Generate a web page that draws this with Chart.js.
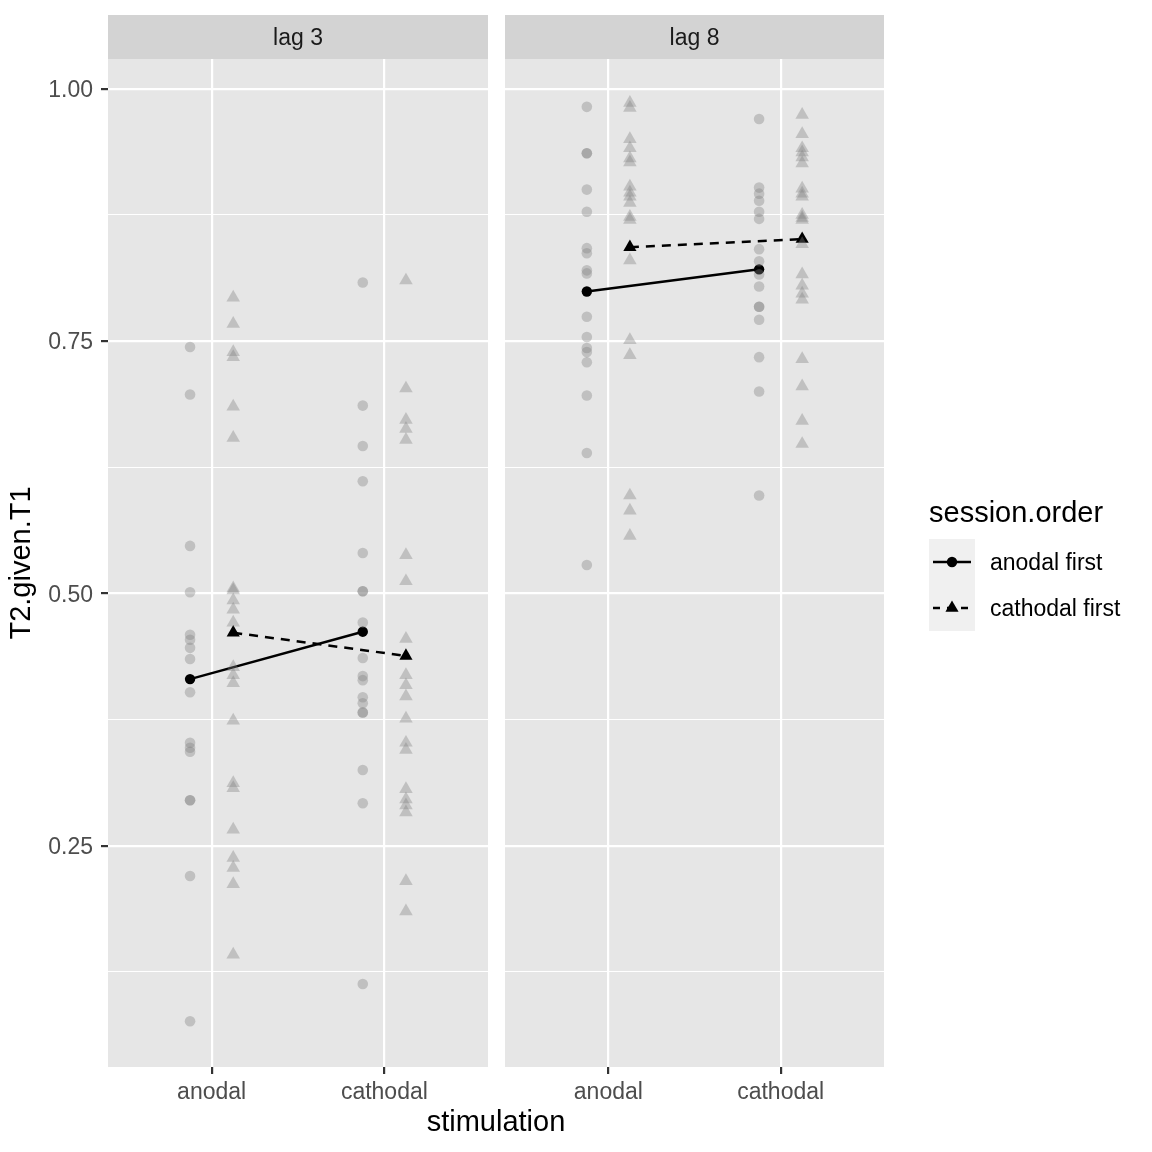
<!DOCTYPE html>
<html>
<head>
<meta charset="utf-8">
<script src="https://cdn.jsdelivr.net/npm/chart.js@4.4.1/dist/chart.umd.min.js"></script>
<style>
  html, body { margin: 0; padding: 0; background: #fff; }
  #wrap { position: relative; width: 1152px; height: 1152px; }
  #wrap canvas { position: absolute; left: 0; top: 0; }
</style>
</head>
<body>
<div id="wrap">
  <canvas id="lag3" width="1152" height="1152"></canvas>
  <canvas id="lag8" width="1152" height="1152"></canvas>
</div>
<script>
// categories
const stimulation = ["anodal", "cathodal"]
const lags = ["lag 3", "lag 8"]
const sessionOrder = ["anodal first", "cathodal first"]

// y axis: labelled ticks and all grid lines
const yTickLabels = [0.25, 0.50, 0.75, 1.00]
const yGridValues = [0.125, 0.25, 0.375, 0.5, 0.625, 0.75, 0.875, 1.0]

// individual subjects, lag 3
const lag3AnodalAnodalFirst = [0.744, 0.697, 0.547, 0.501, 0.459, 0.454, 0.446, 0.435, 0.402, 0.352, 0.347, 0.343, 0.295, 0.295, 0.220, 0.076]
const lag3AnodalCathodalFirst = [0.793, 0.767, 0.739, 0.734, 0.685, 0.654, 0.505, 0.503, 0.493, 0.484, 0.471, 0.427, 0.419, 0.411, 0.374, 0.312, 0.307, 0.266, 0.238, 0.228, 0.212, 0.142]
const lag3CathodalAnodalFirst = [0.808, 0.686, 0.646, 0.611, 0.540, 0.502, 0.502, 0.471, 0.436, 0.418, 0.414, 0.397, 0.391, 0.382, 0.382, 0.325, 0.292, 0.113]
const lag3CathodalCathodalFirst = [0.810, 0.703, 0.672, 0.663, 0.652, 0.538, 0.512, 0.455, 0.419, 0.409, 0.398, 0.376, 0.352, 0.345, 0.306, 0.296, 0.290, 0.283, 0.215, 0.185]

// individual subjects, lag 8
const lag8AnodalAnodalFirst = [0.982, 0.936, 0.936, 0.900, 0.878, 0.842, 0.837, 0.820, 0.817, 0.774, 0.754, 0.743, 0.739, 0.729, 0.696, 0.639, 0.528]
const lag8AnodalCathodalFirst = [0.986, 0.981, 0.950, 0.941, 0.931, 0.927, 0.903, 0.897, 0.893, 0.887, 0.873, 0.870, 0.830, 0.751, 0.736, 0.597, 0.582, 0.557]
const lag8CathodalAnodalFirst = [0.970, 0.902, 0.896, 0.889, 0.878, 0.871, 0.841, 0.829, 0.816, 0.804, 0.784, 0.784, 0.771, 0.734, 0.700, 0.597]
const lag8CathodalCathodalFirst = [0.974, 0.955, 0.941, 0.937, 0.932, 0.926, 0.901, 0.896, 0.893, 0.875, 0.872, 0.870, 0.846, 0.816, 0.805, 0.797, 0.791, 0.732, 0.705, 0.671, 0.648]

// means per stimulation (anodal, cathodal)
const lag3MeanAnodalFirst = [0.415, 0.462]
const lag3MeanCathodalFirst = [0.461, 0.438]
const lag8MeanAnodalFirst = [0.799, 0.821]
const lag8MeanCathodalFirst = [0.843, 0.851]

const FONT = '"Liberation Sans", Arial, Helvetica, sans-serif'
Chart.defaults.font.family = FONT

const yMin = 0.0307, yMax = 1.0294
const dodge = [-0.125, 0.125]
const styles = ["circle", "triangle"]
const greyPoint = "rgba(127,127,127,0.37)"
const isMajor = v => yTickLabels.some(t => Math.abs(t - v) < 1e-6)

function subjectSet(values, stimIndex, orderIndex) {
    return {
        data: values.map(v => ({ x: stimIndex + 1 + dodge[orderIndex], y: v })),
        showLine: false,
        pointStyle: styles[orderIndex],
        pointRadius: orderIndex == 0 ? 5.3 : 7.8,
        pointBackgroundColor: greyPoint,
        pointBorderWidth: 0
    }
}

function meanSet(means, orderIndex) {
    return {
        data: means.map((v, i) => ({ x: i + 1 + dodge[orderIndex], y: v })),
        showLine: true,
        borderColor: "#000",
        borderWidth: 2.5,
        borderDash: orderIndex == 0 ? [] : [9, 7],
        pointStyle: styles[orderIndex],
        pointRadius: orderIndex == 0 ? 5.2 : 7.6,
        pointBackgroundColor: "#000",
        pointBorderWidth: 0
    }
}

function makeScales(showY) {
    return {
        x: {
            type: "linear", min: 0.4, max: 2.6,
            afterBuildTicks: s => { s.ticks = stimulation.map((c, i) => ({ value: i + 1 })) },
            afterFit: s => { s.height = 85 },
            ticks: {
                callback: v => stimulation[v - 1],
                font: { size: 23 }, color: "#4d4d4d", padding: 5,
                autoSkip: false, maxRotation: 0
            },
            grid: { color: "#fff", lineWidth: 2.2, tickColor: "#333", tickLength: 7 },
            border: { display: false }
        },
        y: {
            type: "linear", min: yMin, max: yMax,
            afterBuildTicks: s => { s.ticks = yGridValues.map(v => ({ value: v })) },
            afterFit: s => { s.width = showY ? 108 : 0 },
            ticks: {
                display: showY,
                callback: v => isMajor(v) ? v.toFixed(2) : "",
                font: { size: 23 }, color: "#4d4d4d", padding: 8, labelOffset: 2
            },
            title: {
                display: showY, text: "T2.given.T1",
                font: { size: 29 }, color: "#000", padding: { top: 5, bottom: 0 }
            },
            grid: {
                color: "#fff",
                lineWidth: c => isMajor(c.tick.value) ? 2.2 : 1.1,
                tickColor: c => (showY && isMajor(c.tick.value)) ? "#333" : "rgba(0,0,0,0)",
                tickLength: 7
            },
            border: { display: false }
        }
    }
}

// panel background and facet strip
const panelPlugin = {
    id: "panel",
    beforeDraw(chart, args, opts) {
        const { ctx, chartArea: a } = chart
        ctx.save()
        ctx.fillStyle = "#e6e6e6"
        ctx.fillRect(a.left, a.top, a.right - a.left, a.bottom - a.top)
        ctx.fillStyle = "#d3d3d3"
        ctx.fillRect(a.left, 15, a.right - a.left, a.top - 15)
        ctx.fillStyle = "#1a1a1a"
        ctx.font = "23px " + FONT
        ctx.textAlign = "center"
        ctx.textBaseline = "middle"
        ctx.fillText(opts.label, (a.left + a.right) / 2, 39)
        ctx.restore()
    }
}

// shared x title and legend, drawn on the second panel
const legendPlugin = {
    id: "sharedGuides",
    afterDraw(chart, args, opts) {
        if (!opts.show) return
        const ctx = chart.ctx
        ctx.save()
        ctx.fillStyle = "#000"
        ctx.textBaseline = "middle"
        ctx.textAlign = "center"
        ctx.font = "29px " + FONT
        ctx.fillText("stimulation", 496, 1123)

        ctx.textAlign = "left"
        ctx.fillText("session.order", 929, 514)

        ctx.fillStyle = "#f0f0f0"
        ctx.fillRect(929, 539, 46, 92)

        sessionOrder.forEach((label, i) => {
            const cy = 562 + i * 46
            ctx.strokeStyle = "#000"
            ctx.lineWidth = 2.5
            ctx.setLineDash(i == 0 ? [] : [7, 7])
            ctx.beginPath()
            ctx.moveTo(933, cy)
            ctx.lineTo(971, cy)
            ctx.stroke()
            ctx.setLineDash([])
            ctx.fillStyle = "#000"
            ctx.beginPath()
            if (i == 0) {
                ctx.arc(952, cy, 5.2, 0, Math.PI * 2)
            } else {
                const r = 7.6
                ctx.moveTo(952, cy - r)
                ctx.lineTo(952 + r * Math.sin(2 * Math.PI / 3), cy + r / 2)
                ctx.lineTo(952 - r * Math.sin(2 * Math.PI / 3), cy + r / 2)
                ctx.closePath()
            }
            ctx.fill()
            ctx.font = "23px " + FONT
            ctx.fillText(label, 990, cy + 2)
        })
        ctx.restore()
    }
}

function makeChart(id, lagIndex, sets, padding, showY) {
    return new Chart(document.getElementById(id), {
        type: "scatter",
        data: { datasets: sets },
        options: {
            responsive: false,
            animation: false,
            events: [],
            layout: { padding: padding },
            scales: makeScales(showY),
            plugins: {
                legend: { display: false },
                tooltip: { enabled: false },
                panel: { label: lags[lagIndex] },
                sharedGuides: { show: !showY }
            }
        },
        plugins: [panelPlugin, legendPlugin]
    })
}

makeChart("lag3", 0, [
    subjectSet(lag3AnodalAnodalFirst, 0, 0),
    subjectSet(lag3AnodalCathodalFirst, 0, 1),
    subjectSet(lag3CathodalAnodalFirst, 1, 0),
    subjectSet(lag3CathodalCathodalFirst, 1, 1),
    meanSet(lag3MeanAnodalFirst, 0),
    meanSet(lag3MeanCathodalFirst, 1)
], { left: 0, right: 664, top: 59, bottom: 0 }, true)

makeChart("lag8", 1, [
    subjectSet(lag8AnodalAnodalFirst, 0, 0),
    subjectSet(lag8AnodalCathodalFirst, 0, 1),
    subjectSet(lag8CathodalAnodalFirst, 1, 0),
    subjectSet(lag8CathodalCathodalFirst, 1, 1),
    meanSet(lag8MeanAnodalFirst, 0),
    meanSet(lag8MeanCathodalFirst, 1)
], { left: 505, right: 268, top: 59, bottom: 0 }, false)
</script>
</body>
</html>
